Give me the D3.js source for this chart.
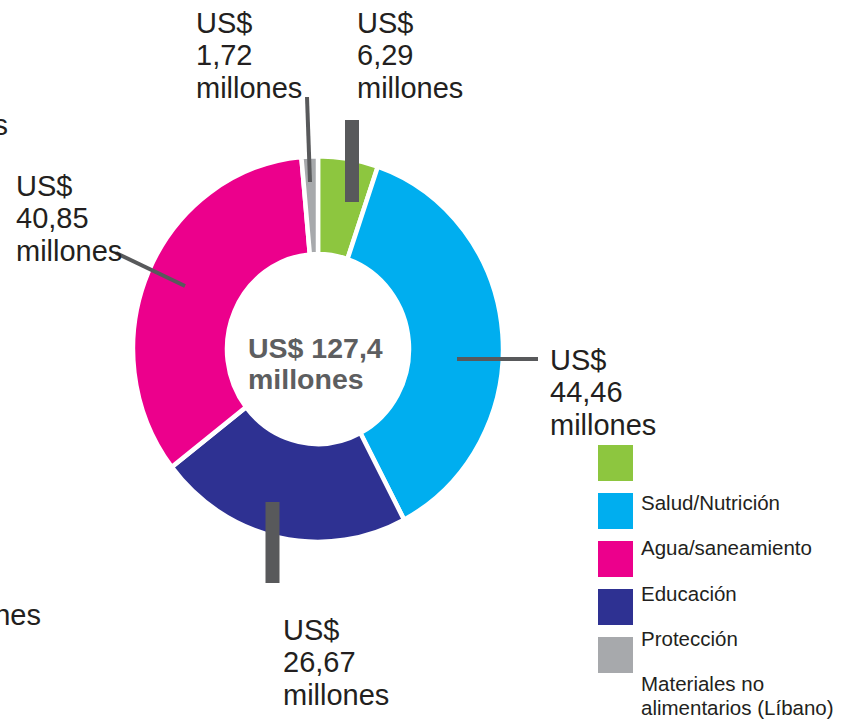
<!DOCTYPE html>
<html><head><meta charset="utf-8">
<script src="https://cdn.jsdelivr.net/npm/d3@7"></script>
<style>body{margin:0;background:#fff}svg{display:block}text{font-family:"Liberation Sans",Arial,sans-serif}</style>
</head><body>
<svg id="c" width="855" height="722"></svg>
<script>
// Data
const sectors = ["Materiales no alimentarios", "Salud/Nutrición", "Educación", "Agua/saneamiento", "Protección"];
const values = [6.29, 44.46, 26.67, 40.85, 1.72];
const valueLabels = ["6,29", "44,46", "26,67", "40,85", "1,72"];
const colors = ["#8dc63f", "#00aeef", "#2e3192", "#ec008c", "#a7a9ac"];
const totalLabel = ["US$ 127,4", "millones"];
const legendColors = ["#8dc63f", "#00aeef", "#ec008c", "#2e3192", "#a7a9ac"];
const legendLabels = [["Salud/Nutrición"], ["Agua/saneamiento"], ["Educación"], ["Protección"], ["Materiales no", "alimentarios (Líbano)"]];

// Layout (annotation positions)
const labelPos = [[357, 33], [550, 370], [283, 640], [16, 196], [196, 33]];
const leaders = [
  [[352, 120], [352, 202], 14],
  [[457, 359], [538, 359], 4],
  [[272.5, 502], [272.5, 583], 14],
  [[116, 253], [185, 286], 4],
  [[307, 97], [310, 182], 4]
];

const svg = d3.select("#c");
const cx = 318, cy = 349, rOuter = 185, rInner = 91;

const pie = d3.pie().sort(null).value(d => d)(values);
const arc = d3.arc().innerRadius(rInner).outerRadius(rOuter);
const g = svg.append("g").attr("transform", `translate(${cx},${cy}) scale(1,1.043)`);
g.selectAll("path").data(pie).join("path")
  .attr("d", arc).attr("fill", (d, i) => colors[i])
  .attr("stroke", "#fff").attr("stroke-width", 4.5).attr("stroke-linejoin", "miter");

// leaders
svg.selectAll("line.ld").data(leaders).join("line").attr("class", "ld")
  .attr("x1", d => d[0][0]).attr("y1", d => d[0][1])
  .attr("x2", d => d[1][0]).attr("y2", d => d[1][1])
  .attr("stroke", "#58595b").attr("stroke-width", d => d[2]);

// labels
const lbl = svg.selectAll("text.lb").data(values).join("text").attr("class", "lb")
  .attr("font-size", 29).attr("fill", "#231f20");
lbl.each(function(d, i) {
  const t = d3.select(this);
  const [x, y] = labelPos[i];
  ["US$", valueLabels[i], "millones"].forEach((s, k) => {
    t.append("tspan").attr("x", x).attr("y", y + k * 32.3).text(s);
  });
});

// cut-off labels at left edge (as in the reference)
svg.append("text").attr("x", 8).attr("y", 135).attr("text-anchor", "end")
  .attr("font-size", 29).attr("fill", "#231f20").text("millones");
svg.append("text").attr("x", 41).attr("y", 625).attr("text-anchor", "end")
  .attr("font-size", 29).attr("fill", "#231f20").text("millones");

// center
const ct = svg.append("text").attr("font-size", 28.5).attr("font-weight", "bold").attr("fill", "#5d5e60");
totalLabel.forEach((s, k) => ct.append("tspan").attr("x", 248).attr("y", 358 + k * 31).text(s));

// legend
const ly = d3.scaleLinear().domain([0, 1]).range([445, 493]);
const lt = d3.scaleLinear().domain([0, 1]).range([510, 555.3]);
const lg = svg.append("g");
lg.selectAll("rect").data(legendColors).join("rect")
  .attr("x", 598).attr("y", (d, i) => ly(i)).attr("width", 35).attr("height", 36).attr("fill", d => d);
lg.selectAll("text.lt").data(legendLabels).join("text").attr("class", "lt")
  .attr("font-size", 20.5).attr("fill", "#231f20")
  .each(function(d, i) {
    const t = d3.select(this);
    d.forEach((s, k) => t.append("tspan").attr("x", 641).attr("y", lt(i) + k * 24).text(s));
  });
</script>
</body></html>
